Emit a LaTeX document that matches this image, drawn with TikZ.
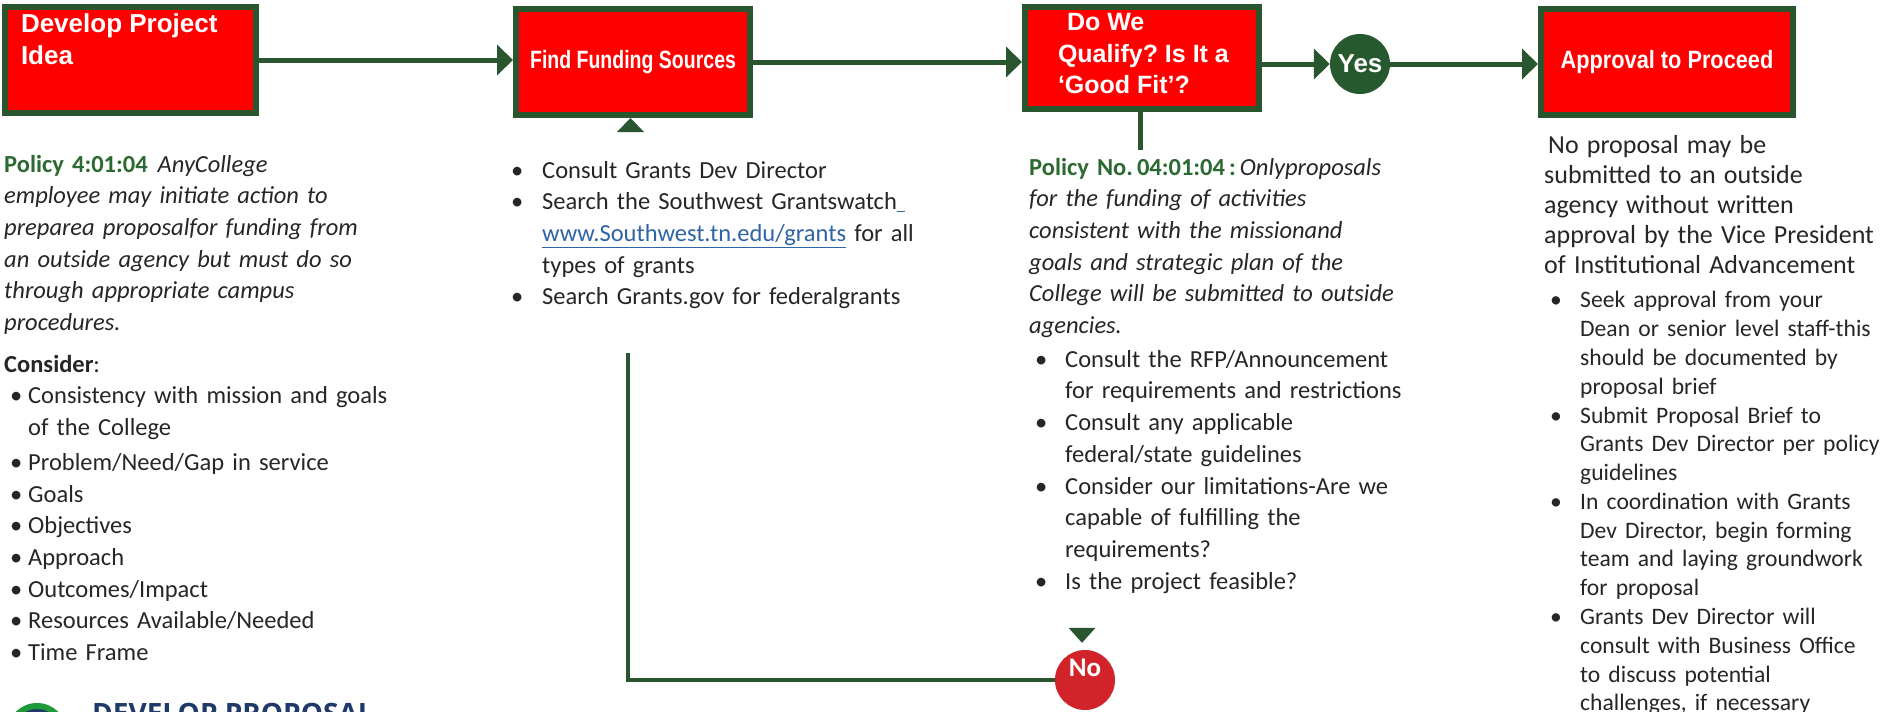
\documentclass[tikz,border=0pt]{standalone}
\usepackage{fontspec}
\setmainfont{Carlito}
\newfontfamily\arialfont{Liberation Sans}
\newfontfamily\headfont{Open Sans}
\usepackage{graphicx}
\usepackage{tikz}
\usetikzlibrary{arrows.meta,positioning}

\definecolor{stagegreen}{HTML}{29562F}
\definecolor{yesgreen}{HTML}{26592D}
\definecolor{stagered}{HTML}{FF0000}
\definecolor{nored}{HTML}{D2232A}
\definecolor{policygreen}{HTML}{2D6A31}
\definecolor{bodygray}{HTML}{262626}
\definecolor{linkblue}{HTML}{2F64A6}
\definecolor{navy}{HTML}{1F3A68}
\definecolor{logogreen}{HTML}{1E9A3A}

\frenchspacing
% bullet with the text starting #1 from the left edge
\newcommand{\bul}[1]{\makebox[#1][l]{\hspace*{6pt}\textbullet}}

\begin{document}
\begin{tikzpicture}
  [x=1pt,y=-1pt,
  stage/.style={rectangle,draw=stagegreen,fill=stagered,line width=6pt,inner sep=0pt,
    minimum width=234pt,minimum height=106pt,text=white,
    font=\arialfont\bfseries\fontsize{25}{31.5}\selectfont},
  answer/.style={circle,inner sep=0pt,minimum size=60pt,text=white,
    font=\bfseries\fontsize{27}{30}\selectfont},
  notes/.style={anchor=base west,align=left,inner sep=0pt,text=bodygray,
    font=\fontsize{24.5}{31.7}\selectfont},
  post/.style={-{Triangle[length=16pt,width=30pt]},line width=5pt,draw=stagegreen},
  back/.style={line width=4pt,draw=stagegreen}
  ]
  \useasboundingbox (0,0) rectangle (1891,712);
  \clip (0,0) rectangle (1891,712);
  \fill[white] (0,0) rectangle (1891,712);

  % the four stages along the top
  \node[stage,minimum width=251pt,font=\arialfont\bfseries\fontsize{26}{32}\selectfont]
    (idea) at (130.5,60) {\parbox[c][92pt][t]{219pt}{Develop Project\\Idea}};
  \node[stage] (funding) at (633,62) {\scalebox{0.78}[1]{Find Funding Sources}};
  \node[stage,minimum height=102pt] (qualify) at (1142,58)
    {\parbox[c][89pt][t]{168pt}{\raggedright\mbox{\hspace*{9pt}Do We}\\
      \mbox{Qualify? Is It a}\\\mbox{‘Good Fit’?}}};
  \node[stage,minimum width=252pt] (approval) at (1667,62)
    {\scalebox{0.87}[1]{Approval to Proceed}};

  \node[answer,fill=yesgreen,font=\arialfont\bfseries\fontsize{26}{30}\selectfont]
    (yes) at (1360,64) {Yes};
  \node[answer,fill=nored,text depth=24pt] (no) at (1085,680) {No};

  \draw[post] (idea.east) -- (idea.east -| funding.west);
  \draw[post] (funding.east) -- (funding.east -| qualify.west);
  \draw[post] (qualify.east |- yes) -- (yes);
  \draw[post] (yes) -- (yes -| approval.west);

  % way back from "No" to the funding search
  \coordinate (looptop) at (628,353);
  \draw[back] (no.west) -| (looptop);
  \fill[stagegreen] ([xshift=-2.5pt]funding.south) -- ++(-13.5,14) -- ++(27,0) -- cycle;
  \fill[stagegreen] ([shift={(-3,-7)}]no.north) -- ++(-13.5,-15) -- ++(27,0) -- cycle;
  \draw[line width=5pt,stagegreen] ([xshift=-2pt]qualify.south) -- ++(0,38);

  % notes under each stage
  \node[notes,text width=460pt] (ideanotes) at (4,172)
    {{\color{policygreen}\bfseries Policy 4:01:04}\hspace{10pt}\textit{AnyCollege}\\
     {\itshape employee may initiate action to\\
     preparea proposalfor funding from\\
     an outside agency but must do so\\
     through appropriate campus\\
     procedures.}\\[10pt]
     \textbf{Consider}:\\
     \bul{24pt}Consistency with mission and goals\\
     \hspace*{24pt}of the College\\[3pt]
     \bul{24pt}Problem/Need/Gap in service\\
     \bul{24pt}Goals\\
     \bul{24pt}Objectives\\
     \bul{24pt}Approach\\
     \bul{24pt}Outcomes/Impact\\
     \bul{24pt}Resources Available/Needed\\
     \bul{24pt}Time Frame};

  \node[notes,text width=480pt] (fundingnotes) at (505,178)
    {\bul{37pt}Consult Grants Dev Director\\
     \bul{37pt}Search the Southwest Grantswatch{\color{linkblue}\underline{\ }}\\
     \hspace*{37pt}{\color{linkblue}\underline{www.Southwest.tn.edu/grants}} for all\\
     \hspace*{37pt}types of grants\\
     \bul{37pt}Search Grants.gov for federalgrants};

  \node[notes,text width=480pt] (qualifynotes) at (1029,175)
    {{\color{policygreen}\bfseries Policy No.\,04:01:04\,:}\,\textit{Onlyproposals}\\
     {\itshape for the funding of activities\\
     consistent with the missionand\\
     goals and strategic plan of the\\
     College will be submitted to outside\\
     agencies.}\\[2pt]
     \bul{36pt}Consult the RFP/Announcement\\
     \hspace*{36pt}for requirements and restrictions\\
     \bul{36pt}Consult any applicable\\
     \hspace*{36pt}federal/state guidelines\\
     \bul{36pt}Consider our limitations-Are we\\
     \hspace*{36pt}capable of fulfilling the\\
     \hspace*{36pt}requirements?\\
     \bul{36pt}Is the project feasible?};

  \node[notes,text width=400pt] (approvalnotes) at (1544,153)
    {{\fontsize{26}{30}\selectfont\hspace*{4pt}No proposal may be\\
     submitted to an outside\\
     agency without written\\
     approval by the Vice President\\
     of Institutional Advancement\par}
     \vspace{6pt}
     {\fontsize{23.6}{28.8}\selectfont
     \bul{36pt}Seek approval from your\\
     \hspace*{36pt}Dean or senior level staff-this\\
     \hspace*{36pt}should be documented by\\
     \hspace*{36pt}proposal brief\\
     \bul{36pt}Submit Proposal Brief to\\
     \hspace*{36pt}Grants Dev Director per policy\\
     \hspace*{36pt}guidelines\\
     \bul{36pt}In coordination with Grants\\
     \hspace*{36pt}Dev Director, begin forming\\
     \hspace*{36pt}team and laying groundwork\\
     \hspace*{36pt}for proposal\\
     \bul{36pt}Grants Dev Director will\\
     \hspace*{36pt}consult with Business Office\\
     \hspace*{36pt}to discuss potential\\
     \hspace*{36pt}challenges, if necessary\par}};

  % next section heading, running off the bottom edge
  \fill[logogreen] (37,733) circle (30pt);
  \fill[navy] (37,733) circle (24pt);
  \node[anchor=base west,inner sep=0pt,text=navy,
    font=\headfont\bfseries\fontsize{28}{30}\selectfont]
    (proposalhead) at (92,723) {DEVELOP PROPOSAL};
\end{tikzpicture}
\end{document}
